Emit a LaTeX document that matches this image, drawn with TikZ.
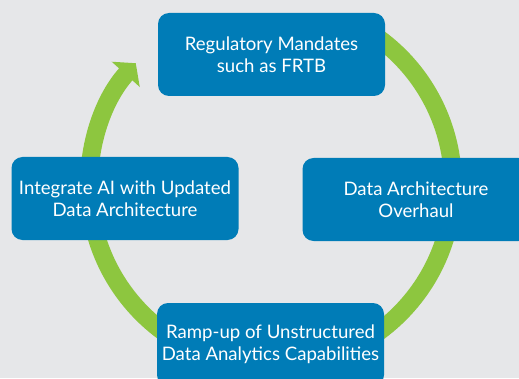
\documentclass[tikz,border=0pt]{standalone}
\usepackage{fontspec}
\setmainfont{Lato}
\usetikzlibrary{positioning,calc,arrows.meta}
\definecolor{boxblue}{HTML}{007CB7}
\definecolor{ringgreen}{HTML}{8DC63F}
\definecolor{paper}{HTML}{E6E7E9}

\begin{document}
\begin{tikzpicture}[x=1pt,y=1pt,
    stage/.style={fill=boxblue, text=white, rounded corners=11pt, inner sep=2pt,
        minimum width=227pt, minimum height=83pt, align=center,
        font=\fontsize{18.6}{22.4}\selectfont},
    ring/.style={draw=ringgreen, line width=18pt}]
    \fill[paper] (0,0) rectangle (519,378);
    \useasboundingbox (0,0) rectangle (519,378);
    \coordinate (hub) at (271,193);
    \def\rad{182}

    % the cycle, under the boxes
    \draw[ring] ($(hub)+(54:\rad)$) arc[start angle=54, end angle=0, radius=\rad];
    \draw[ring] ($(hub)+(0:\rad)$) arc[start angle=0, end angle=-90, radius=\rad];
    \draw[ring] ($(hub)+(-90:\rad)$) arc[start angle=-90, end angle=-175, radius=\rad];
    \draw[ring, -{Triangle[width=37pt,length=15pt]}] ($(hub)+(185:\rad)$)
        arc[start angle=185, end angle=138, radius=\rad];

    \node[stage] (regs) at ($(hub)+(0.5,130.5)$) {Regulatory Mandates\\such as FRTB};
    \node[stage] (overhaul) at ($(hub)+(145,-14.5)$) {Data Architecture\\Overhaul};
    \node[stage] (rampup) at ($(hub)+(-0.5,-159.5)$) {Ramp-up of Unstructured\\Data Analytics Capabilities};
    \node[stage] (integrate) at ($(hub)+(-146,-13.5)$) {Integrate AI with Updated\\Data Architecture};
\end{tikzpicture}
\end{document}
